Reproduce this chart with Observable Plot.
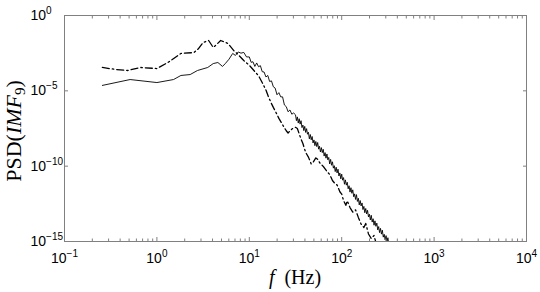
<!DOCTYPE html>
<html><head><meta charset="utf-8">
<script src="https://cdn.jsdelivr.net/npm/d3@7"></script>
<script src="https://cdn.jsdelivr.net/npm/@observablehq/plot@0.6"></script>
<style>body{margin:0;background:#fff;} #chart svg{display:block;}</style>
</head><body><div id="chart"></div>
<script>
// Solid curve: frequency (Hz) and log10 of PSD
const solidF = [0.257, 0.513, 1.0, 1.514, 1.82, 2.29, 2.75, 3.55, 4.07, 4.57, 5.13, 5.50, 6.03, 6.61, 7.08, 7.59, 8.13, 8.71, 9.33,
  10.0, 10.47, 10.96, 11.48, 12.02, 12.59, 13.18, 13.80, 14.45, 15.14, 15.85, 16.60, 17.38, 18.20, 19.05, 19.95, 20.89, 21.88, 22.91, 23.99,
  25.12, 26.30, 27.54, 28.84, 30.20,
  31.62, 32.36, 33.11, 33.88, 34.67, 35.48, 36.31, 37.15, 38.02, 38.90,
  39.81, 40.74, 41.69, 42.66, 43.65, 44.67, 45.71, 46.77, 47.86, 48.98,
  50.12, 51.29, 52.48, 53.70, 54.95, 56.23, 57.54, 58.88, 60.26, 61.66,
  63.10, 64.57, 66.07, 67.61, 69.18, 70.79, 72.44, 74.13, 75.86, 77.62,
  79.43, 81.28, 83.18, 85.11, 87.10, 89.13, 91.20, 93.33, 95.50, 97.72,
  100.0, 102.3, 104.7, 107.2, 109.6, 112.2, 114.8, 117.5, 120.2, 123.0,
  125.9, 128.8, 131.8, 134.9, 138.0, 141.3, 144.5, 147.9, 151.4, 154.9,
  158.5, 162.2, 166.0, 169.8, 173.8, 177.8, 182.0, 186.2, 190.5, 195.0,
  199.5, 204.2, 208.9, 213.8, 218.8, 223.9, 229.1, 234.4, 239.9, 245.5,
  251.2, 257.0, 263.0, 269.2, 275.4, 281.8, 288.4, 295.1, 302.0, 309.0,
  316.2, 323.6, 331.1, 338.8, 346.7, 354.8, 363.1];
const solidLog10PSD = [-4.64, -4.25, -4.45, -4.25, -3.98, -3.92, -3.65, -3.45, -3.19, -3.12, -3.38, -3.19, -2.90, -2.52, -2.65, -2.42, -2.50, -2.45, -2.75,
  -2.75, -3.11, -3.07, -3.38, -3.15, -3.40, -3.33, -3.73, -3.75, -4.08, -3.98, -4.38, -4.34, -4.73, -4.82, -5.26, -5.12, -5.40, -5.40, -5.94,
  -6.05, -6.39, -6.27, -6.55, -6.47,
  -6.59, -6.98, -6.73, -7.14, -6.85, -7.21, -6.98, -7.44, -7.27, -7.64,
  -7.36, -7.76, -7.51, -7.88, -7.75, -8.19, -7.90, -8.25, -8.03, -8.46,
  -8.26, -8.64, -8.36, -8.70, -8.43, -8.87, -8.68, -9.06, -8.77, -9.10,
  -8.88, -9.33, -9.10, -9.47, -9.19, -9.58, -9.42, -9.85, -9.55, -9.94,
  -9.71, -10.13, -9.97, -10.36, -10.07, -10.45, -10.20, -10.65, -10.45, -10.84,
  -10.53, -10.93, -10.76, -11.20, -10.91, -11.26, -11.07, -11.50, -11.30, -11.72,
  -11.43, -11.80, -11.57, -12.03, -11.84, -12.21, -11.89, -12.34, -12.13, -12.57,
  -12.28, -12.64, -12.44, -12.88, -12.67, -13.09, -12.81, -13.17, -12.93, -13.37,
  -13.19, -13.57, -13.26, -13.71, -13.49, -13.92, -13.63, -13.99, -13.78, -14.23,
  -14.01, -14.41, -14.13, -14.51, -14.25, -14.71, -14.52, -14.89, -14.61, -15.01,
  -14.75, -15.19, -14.99, -15.41, -15.11, -15.48, -15.26];

// Dash-dot curve
const dashF = [0.257, 0.355, 0.479, 0.661, 1.0, 1.318, 1.82, 2.51, 2.82, 3.16, 3.63, 4.07, 4.47, 4.90, 5.25, 5.89, 6.76, 7.59, 8.71,
  10.0, 11.22, 12.59, 13.96, 15.14, 16.22, 17.38, 18.20, 19.50, 20.89, 22.91, 25.12, 26.30, 27.54, 29.51, 31.62, 33.11, 34.67, 36.31, 38.02,
  40.74, 43.65, 46.77, 48.98, 52.48, 54.95, 58.88, 61.66, 64.57, 69.18, 74.13, 79.43, 83.18, 89.13, 95.50, 100.0, 104.7, 110.9, 114.8, 123.0,
  131.8, 141.3, 151.4, 162.2, 173.8, 182.0, 195.0, 208.9, 223.9, 239.9, 257.0];
const dashLog10PSD = [-3.45, -3.58, -3.65, -3.45, -3.52, -3.12, -2.52, -2.46, -2.20, -1.79, -1.66, -2.12, -1.90, -1.66, -1.73, -1.86, -2.32, -2.60, -2.99,
  -3.30, -3.65, -4.00, -4.51, -4.95, -5.44, -5.85, -6.10, -6.45, -6.83, -7.25, -7.65, -7.80, -7.65, -7.50, -7.42, -7.50, -7.85, -8.20, -8.50,
  -9.09, -9.40, -9.85, -9.75, -9.45, -9.55, -9.85, -9.95, -10.09, -10.35, -10.55, -10.95, -11.10, -11.25, -11.70, -11.85, -12.28, -12.60, -12.30, -12.75,
  -13.05, -12.90, -13.40, -13.85, -14.07, -13.80, -14.50, -14.80, -14.60, -15.30, -15.60];

// Axis ticks and labels
const xMajorTicks = [0.1, 1, 10, 100, 1000, 10000];
const xTickExponents = ["\u22121", "0", "1", "2", "3", "4"];
const yMajorTicks = [1, 1e-5, 1e-10, 1e-15];
const yTickExponents = ["0", "\u22125", "\u221210", "\u221215"];
const xMinorTicks = xMajorTicks.slice(0, -1).flatMap(d => [2,3,4,5,6,7,8,9].map(m => d * m));
const xLabelParts = ["f", "(Hz)"];
const yLabelParts = ["PSD(", "IMF", "9", ")"];

const solidRows = solidF.map((f, i) => ({f, psd: 10 ** solidLog10PSD[i]}));
const dashRows = dashF.map((f, i) => ({f, psd: 10 ** dashLog10PSD[i]}));

const axisGray = "#808080";
const xFmt = d => "10^" + xTickExponents[xMajorTicks.indexOf(d)];
const yFmt = d => "10^" + yTickExponents[yMajorTicks.indexOf(d)];

const plot = Plot.plot({
  width: 540, height: 292,
  marginLeft: 64, marginRight: 14, marginTop: 15, marginBottom: 51,
  x: {type: "log", domain: [0.1, 1e4], axis: null, label: null},
  y: {type: "log", domain: [1e-15, 1], axis: null, label: null},
  style: {fontFamily: "'Liberation Sans', Arial, sans-serif", fontSize: "14px", color: "#000", background: "#fff"},
  marks: [
    Plot.line(dashRows, {x: "f", y: "psd", stroke: "#000", strokeWidth: 1.3, strokeDasharray: "7,3,1.5,3", clip: true}),
    Plot.line(solidRows, {x: "f", y: "psd", stroke: "#000", strokeWidth: 0.9, clip: true}),
    Plot.frame({stroke: axisGray, strokeWidth: 1}),
    Plot.axisX({ticks: xMajorTicks, anchor: "bottom", tickSize: -4, stroke: axisGray, fill: "none", label: null}),
    Plot.axisX({ticks: xMajorTicks, anchor: "top", tickSize: -4, stroke: axisGray, fill: "none", label: null}),
    Plot.axisX({ticks: xMinorTicks, anchor: "bottom", tickSize: -2.5, stroke: axisGray, fill: "none", label: null}),
    Plot.axisX({ticks: xMinorTicks, anchor: "top", tickSize: -2.5, stroke: axisGray, fill: "none", label: null}),
    Plot.axisY({ticks: yMajorTicks, anchor: "left", tickSize: -4, stroke: axisGray, fill: "none", label: null}),
    Plot.axisY({ticks: yMajorTicks, anchor: "right", tickSize: -4, stroke: axisGray, fill: "none", label: null}),
    Plot.axisX({ticks: xMajorTicks, anchor: "bottom", tickSize: 0, tickPadding: 12, tickFormat: xFmt, label: null, fill: "#000"}),
    Plot.axisY({ticks: yMajorTicks, anchor: "left", tickSize: 0, tickPadding: 34, textAnchor: "start", tickFormat: yFmt, label: null, fill: "#000"})
  ]
});

const svg = d3.select(plot);
svg.selectAll('g[aria-label="x-axis tick label"] text, g[aria-label="y-axis tick label"] text').each(function() {
  const t = d3.select(this);
  const s = t.text();
  if (!s.includes("^")) return;
  const [base, exp] = s.split("^");
  t.text(null);
  t.append("tspan").text(base);
  t.append("tspan").attr("dy", -6).attr("font-size", "10px").text(exp);
});

const serif = "'Liberation Serif', 'DejaVu Serif', serif";
const xl = svg.append("text").attr("x", 295).attr("y", 284).attr("text-anchor", "middle")
  .attr("font-family", serif).attr("font-size", 20).attr("fill", "#000");
xl.append("tspan").attr("font-style", "italic").text(xLabelParts[0]);
xl.append("tspan").text("\u2002" + xLabelParts[1]);

const yl = svg.append("text").attr("transform", "translate(21,131) rotate(-90)").attr("text-anchor", "middle")
  .attr("font-family", serif).attr("font-size", 22).attr("fill", "#000");
yl.append("tspan").text(yLabelParts[0]);
yl.append("tspan").attr("font-style", "italic").text(yLabelParts[1]);
yl.append("tspan").attr("font-size", 15).attr("dy", 4).text(yLabelParts[2]);
yl.append("tspan").attr("dy", -4).text(yLabelParts[3]);

document.getElementById("chart").appendChild(plot);
</script>
</body></html>
